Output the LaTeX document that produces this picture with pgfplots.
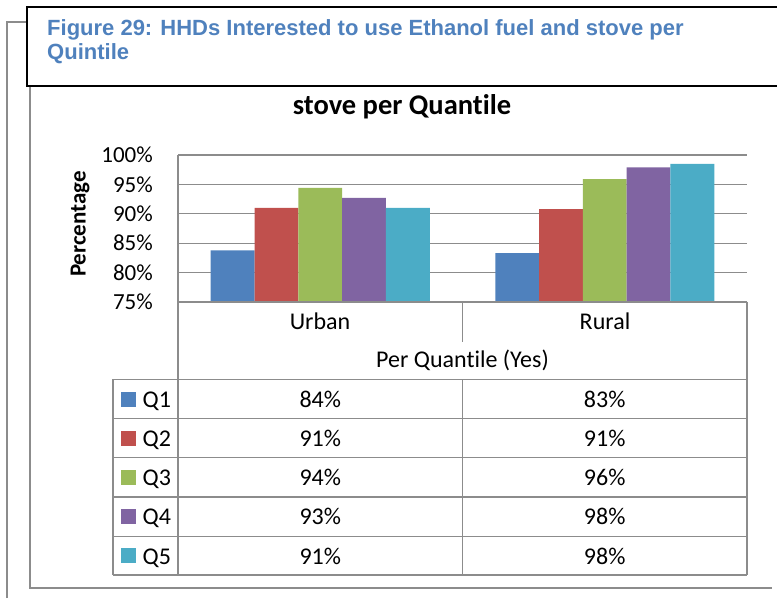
\documentclass[border=0pt]{standalone}
\usepackage{pgfplots}
\pgfplotsset{compat=1.18}
\usepackage{fontspec}
\setmainfont{Carlito}[Ligatures=NoCommon]
\newfontfamily\arialfont{Liberation Sans}
\definecolor{qone}{HTML}{4F81BD}
\definecolor{qtwo}{HTML}{C0504D}
\definecolor{qthree}{HTML}{9BBB59}
\definecolor{qfour}{HTML}{8064A2}
\definecolor{qfive}{HTML}{4BACC6}
\definecolor{capblue}{HTML}{4F81BD}
\definecolor{linegray}{HTML}{8C8C8C}
\newcommand{\tabfont}{\fontsize{24}{28}\selectfont}

\begin{document}
\begin{tikzpicture}[x=1pt,y=1pt]
\path[use as bounding box] (0,0) rectangle (777,598);

% outer frames
\draw[linegray,line width=1.3pt] (7,0) -- (7,576) -- (27,576);
\draw[linegray,line width=1.3pt] (30,512) -- (30,10) -- (772,10);
\draw[black,line width=1.5pt] (777,591) -- (27,591) -- (27,512) -- (777,512);

% caption
\node[anchor=base west,inner sep=0pt,text=capblue,font=\arialfont\bfseries\fontsize{22}{26}\selectfont]
  at (47,562) {Figure 29: HHDs Interested to use Ethanol fuel and stove per};
\node[anchor=base west,inner sep=0pt,text=capblue,font=\arialfont\bfseries\fontsize{22}{26}\selectfont]
  at (47,538) {Quintile};

% chart title and y label
\node[anchor=base,inner sep=0pt,font=\bfseries\fontsize{28.5}{32}\selectfont] at (402,483) {stove per Quantile};
\node[rotate=90,inner sep=0pt,font=\bfseries\fontsize{23}{26}\selectfont] at (80,374) {Percentage};

\begin{axis}[
  at={(178pt,296pt)}, anchor=south west,
  width=569pt, height=147pt, scale only axis,
  xmin=-0.5, xmax=1.5,
  ymin=75, ymax=100,
  ytick={75,80,85,90,95,100},
  yticklabels={75\%,80\%,85\%,90\%,95\%,100\%},
  xtick=\empty,
  major tick length=0pt,
  axis line style={draw=none},
  ymajorgrids,
  grid style={draw=linegray,line width=1.3pt},
  yticklabel style={font=\fontsize{23}{27}\selectfont,anchor=east,inner sep=0pt,xshift=-25pt},
  ybar=0pt, bar width=43.8pt,
  every axis plot/.append style={draw=none},
]
\addplot[fill=qone]   coordinates {(0,83.8) (1,83.3)};
\addplot[fill=qtwo]   coordinates {(0,91.0) (1,90.8)};
\addplot[fill=qthree] coordinates {(0,94.4) (1,95.9)};
\addplot[fill=qfour]  coordinates {(0,92.7) (1,97.9)};
\addplot[fill=qfive]  coordinates {(0,91.0) (1,98.5)};
\end{axis}

% data table
\begin{scope}[linegray,line width=1.3pt]
\draw (178,443) -- (178,23);
\draw (747,296) -- (747,23);
\draw (113,218.7) -- (113,23);
\draw (462.5,296) -- (462.5,256.3);
\draw (462.5,218.7) -- (462.5,23);
\draw (178,296) -- (747,296);
\foreach \yy in {218.7,179.3,140.3,101,61.7,23} \draw (113,\yy) -- (747,\yy);
\end{scope}

\node[anchor=base,inner sep=0pt,font=\tabfont] at (320,268) {Urban};
\node[anchor=base,inner sep=0pt,font=\tabfont] at (605,268) {Rural};
\node[anchor=base,inner sep=0pt,font=\tabfont] at (462.5,230) {Per Quantile (Yes)};

\foreach \c/\lab/\u/\r [count=\i from 0] in
  {qone/Q1/84/83, qtwo/Q2/91/91, qthree/Q3/94/96, qfour/Q4/93/98, qfive/Q5/91/98}{
  \pgfmathsetmacro{\cy}{199 - 39.2*\i}
  \fill[\c] (121,\cy-7.5) rectangle (136,\cy+7.5);
  \node[anchor=base west,inner sep=0pt,font=\tabfont] at (142.5,\cy-8.3) {\lab};
  \node[anchor=base,inner sep=0pt,font=\tabfont] at (320.3,\cy-8.3) {\u\%};
  \node[anchor=base,inner sep=0pt,font=\tabfont] at (604.7,\cy-8.3) {\r\%};
}
\end{tikzpicture}
\end{document}
